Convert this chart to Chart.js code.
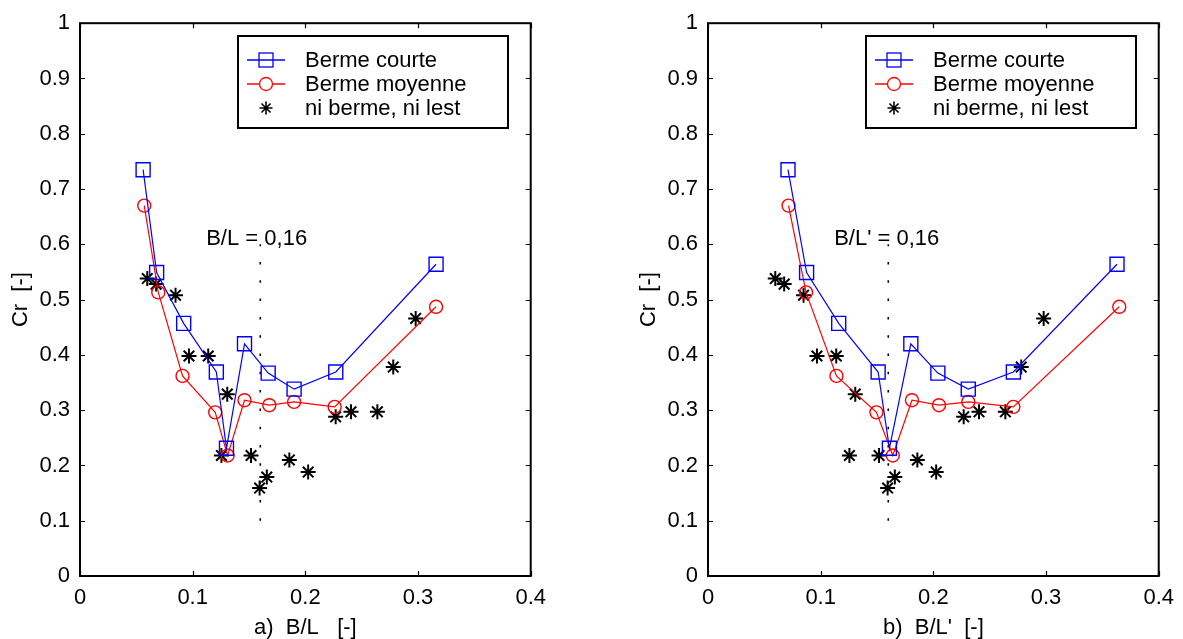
<!DOCTYPE html>
<html lang="fr">
<head>
<meta charset="UTF-8">
<title>Cr en fonction de B/L</title>
<script src="https://cdn.jsdelivr.net/npm/chart.js"></script>
<style>
  body { margin: 0; background: #fff; }
  #wrap { position: relative; width: 1183px; height: 639px; }
  canvas { position: absolute; top: 0; }
  #chartA { left: 0; }
  #chartB { left: 628px; }
</style>
</head>
<body>
<div id="wrap">
  <canvas id="chartA" width="555" height="639"></canvas>
  <canvas id="chartB" width="555" height="639"></canvas>
</div>
<script>
// Cr values (same tests in both panels)
const courteY  = [0.735, 0.549, 0.457, 0.369, 0.231, 0.420, 0.367, 0.338, 0.369, 0.564];
const moyenneY = [0.670, 0.513, 0.362, 0.296, 0.218, 0.318, 0.309, 0.315, 0.306, 0.487];

// panel a) B/L
const courteXa  = [0.056, 0.068, 0.092, 0.121, 0.130, 0.146, 0.167, 0.190, 0.227, 0.316];
const moyenneXa = [0.057, 0.0695, 0.091, 0.120, 0.131, 0.146, 0.168, 0.190, 0.226, 0.316];

// panel b) B/L'
const courteXb  = [0.071, 0.0875, 0.116, 0.151, 0.161, 0.180, 0.204, 0.231, 0.271, 0.363];
const moyenneXb = [0.0715, 0.087, 0.114, 0.1495, 0.164, 0.181, 0.205, 0.231, 0.271, 0.365];

// ni berme, ni lest (L' = L)
const lestX = [0.0597, 0.0676, 0.0848, 0.0967, 0.1138, 0.1255, 0.1307, 0.1518, 0.1594, 0.1658, 0.1858, 0.2025, 0.2269, 0.2405, 0.2639, 0.278, 0.2979];
const lestY = [0.538, 0.528, 0.508, 0.398, 0.398, 0.218, 0.329, 0.218, 0.159, 0.179, 0.210, 0.188, 0.288, 0.297, 0.297, 0.378, 0.466];

const xTicks = [0, 0.1, 0.2, 0.3, 0.4];
const xTickLabels = ['0', '0.1', '0.2', '0.3', '0.4'];
const yTicks = [0, 0.1, 0.2, 0.3, 0.4, 0.5, 0.6, 0.7, 0.8, 0.9, 1];
const yTickLabels = ['0', '0.1', '0.2', '0.3', '0.4', '0.5', '0.6', '0.7', '0.8', '0.9', '1'];

// B/L = 0,16 marker
const seuilX = [0.16, 0.16];
const seuilY = [0.1, 0.6];
const seuilTextPos = [0.112, 0.61];

const legendLabels = ['Berme courte', 'Berme moyenne', 'ni berme, ni lest'];

const FONT = '"Liberation Sans", Arial, sans-serif';
const FS = 22;
const BLUE = '#0000ff';
const RED = '#ff0000';

function pts(xs, ys) {
    return xs.map((x, i) => ({ x: x, y: ys[i] }));
}

function drawStar(ctx, x, y, r) {
    ctx.beginPath();
    ctx.moveTo(x, y - r); ctx.lineTo(x, y + r);
    ctx.moveTo(x - r, y); ctx.lineTo(x + r, y);
    const d = r * 0.7;
    ctx.moveTo(x - d, y - d); ctx.lineTo(x + d, y + d);
    ctx.moveTo(x - d, y + d); ctx.lineTo(x + d, y - d);
    ctx.stroke();
}

// frame, inward ticks, annotation and legend (matlab style)
const matlabDecor = {
    id: 'matlabDecor',
    afterDraw(chart, args, opts) {
        const ctx = chart.ctx;
        const a = chart.chartArea;
        const xs = chart.scales.x, ys = chart.scales.y;
        ctx.save();

        // text next to the dotted line
        ctx.fillStyle = '#000';
        ctx.font = FS + 'px ' + FONT;
        ctx.textAlign = 'left';
        ctx.textBaseline = 'middle';
        ctx.fillText(opts.seuilText, xs.getPixelForValue(seuilTextPos[0]), ys.getPixelForValue(seuilTextPos[1]));

        // box
        ctx.strokeStyle = '#000';
        ctx.lineWidth = 2;
        ctx.strokeRect(a.left, a.top, a.right - a.left, a.bottom - a.top);

        // inward ticks
        ctx.lineWidth = 1.2;
        ctx.beginPath();
        xTicks.forEach(v => {
            const p = Math.round(xs.getPixelForValue(v)) + 0.5;
            ctx.moveTo(p, a.bottom); ctx.lineTo(p, a.bottom - 5);
            ctx.moveTo(p, a.top); ctx.lineTo(p, a.top + 5);
        });
        yTicks.forEach(v => {
            const p = Math.round(ys.getPixelForValue(v)) + 0.5;
            ctx.moveTo(a.left, p); ctx.lineTo(a.left + 5, p);
            ctx.moveTo(a.right, p); ctx.lineTo(a.right - 5, p);
        });
        ctx.stroke();

        // legend
        const bx = 238, by = 36, bw = 270, bh = 92;
        ctx.fillStyle = '#fff';
        ctx.fillRect(bx, by, bw, bh);
        ctx.lineWidth = 2;
        ctx.strokeRect(bx, by, bw, bh);
        const rows = [60, 84, 108];
        const cx = 266;
        ctx.lineWidth = 1.3;
        // Berme courte
        ctx.strokeStyle = BLUE;
        ctx.beginPath(); ctx.moveTo(247, rows[0]); ctx.lineTo(285, rows[0]); ctx.stroke();
        ctx.strokeRect(cx - 7, rows[0] - 7, 14, 14);
        // Berme moyenne
        ctx.strokeStyle = RED;
        ctx.beginPath(); ctx.moveTo(247, rows[1]); ctx.lineTo(285, rows[1]); ctx.stroke();
        ctx.fillStyle = '#fff';
        ctx.beginPath(); ctx.arc(cx, rows[1], 6.5, 0, Math.PI * 2); ctx.fill(); ctx.stroke();
        // ni berme, ni lest
        ctx.strokeStyle = '#000';
        ctx.lineWidth = 1.6;
        drawStar(ctx, cx, rows[2], 6.5);

        ctx.fillStyle = '#000';
        ctx.font = FS + 'px ' + FONT;
        ctx.textAlign = 'left';
        ctx.textBaseline = 'middle';
        legendLabels.forEach((t, i) => ctx.fillText(t, 305, rows[i] + 1));

        ctx.restore();
    }
};

function makeChart(id, xCourte, xMoy, xTitle, seuilText) {
    return new Chart(document.getElementById(id), {
        type: 'line',
        data: {
            datasets: [
                {
                    label: legendLabels[0],
                    data: pts(xCourte, courteY),
                    borderColor: BLUE,
                    backgroundColor: 'rgba(0,0,0,0)',
                    borderWidth: 1.2,
                    pointStyle: 'rect',
                    pointRadius: 9.9,
                    pointBorderWidth: 1.4,
                    pointBorderColor: BLUE,
                    tension: 0
                },
                {
                    label: legendLabels[1],
                    data: pts(xMoy, moyenneY),
                    borderColor: RED,
                    backgroundColor: 'rgba(0,0,0,0)',
                    borderWidth: 1.2,
                    pointStyle: 'circle',
                    pointRadius: 6.5,
                    pointBorderWidth: 1.4,
                    pointBorderColor: RED,
                    tension: 0
                },
                {
                    label: legendLabels[2],
                    data: pts(lestX, lestY),
                    showLine: false,
                    borderColor: '#000',
                    pointStyle: 'star',
                    pointRadius: 7.5,
                    pointBorderWidth: 2,
                    pointBorderColor: '#000'
                },
                {
                    label: 'seuil',
                    data: pts(seuilX, seuilY),
                    borderColor: '#000',
                    borderWidth: 1.6,
                    borderDash: [2.5, 15.8],
                    pointRadius: 0
                }
            ]
        },
        options: {
            responsive: false,
            animation: false,
            devicePixelRatio: 1,
            layout: { padding: { top: 20, right: 20, left: 0, bottom: 0 } },
            plugins: {
                legend: { display: false },
                tooltip: { enabled: false },
                matlabDecor: { seuilText: seuilText }
            },
            scales: {
                x: {
                    type: 'linear',
                    min: 0,
                    max: 0.4,
                    afterBuildTicks: s => { s.ticks = xTicks.map(v => ({ value: v })); },
                    afterFit: s => { s.height = 63; },
                    grid: { display: false, drawTicks: false },
                    border: { display: false },
                    ticks: {
                        padding: 9,
                        color: '#000',
                        font: { family: FONT, size: FS },
                        maxRotation: 0,
                        callback: (v, i) => xTickLabels[i]
                    },
                    title: {
                        display: true,
                        text: xTitle,
                        color: '#000',
                        font: { family: FONT, size: FS },
                        padding: { top: 0, bottom: -2 }
                    }
                },
                y: {
                    type: 'linear',
                    min: 0,
                    max: 1,
                    afterBuildTicks: s => { s.ticks = yTicks.map(v => ({ value: v })); },
                    afterFit: s => { s.width = 80; },
                    grid: { display: false, drawTicks: false },
                    border: { display: false },
                    ticks: {
                        padding: 10,
                        color: '#000',
                        font: { family: FONT, size: FS },
                        callback: (v, i) => yTickLabels[i]
                    },
                    title: {
                        display: true,
                        text: 'Cr  [-]',
                        color: '#000',
                        font: { family: FONT, size: FS },
                        padding: { top: 8, bottom: 0 }
                    }
                }
            }
        },
        plugins: [matlabDecor]
    });
}

makeChart('chartA', courteXa, moyenneXa, 'a)  B/L   [-]', 'B/L = 0,16');
makeChart('chartB', courteXb, moyenneXb, "b)  B/L'  [-]", "B/L' = 0,16");
</script>
</body>
</html>
